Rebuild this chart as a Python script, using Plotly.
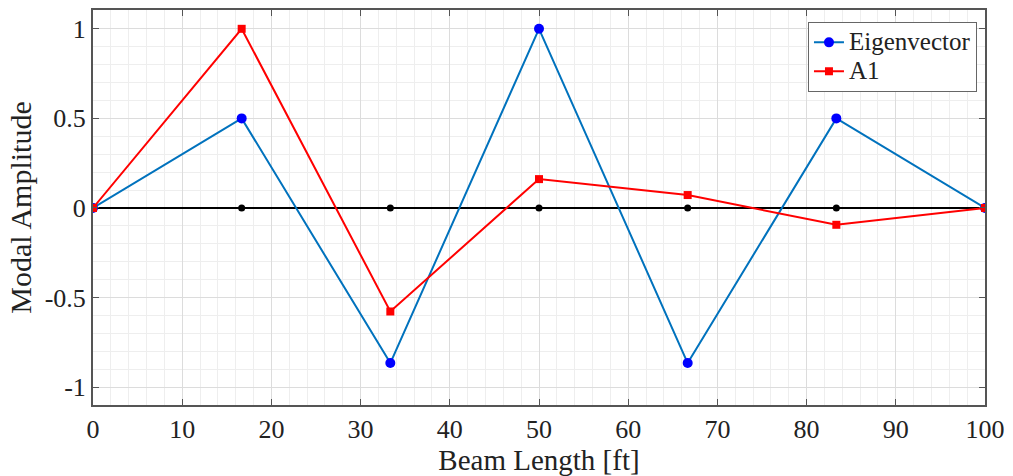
import plotly.graph_objects as go

x_nodes = [0, 100/6, 200/6, 50, 400/6, 500/6, 100]
eigenvector = [0, 0.5, -0.866, 1.0, -0.866, 0.5, 0]
a1 = [0, 1.0, -0.578, 0.161, 0.072, -0.094, 0]
zero_line = [0, 0, 0, 0, 0, 0, 0]
series_names = ["Eigenvector", "A1"]

FONT = "Liberation Serif, Times New Roman, serif"

def big(label):
    return f"<span style='font-size:25px'>{label}</span>"

fig = go.Figure()
fig.add_trace(go.Scatter(x=x_nodes, y=zero_line, mode="lines+markers",
                         line=dict(color="black", width=2),
                         marker=dict(color="black", size=7, symbol="circle"),
                         showlegend=False))
fig.add_trace(go.Scatter(x=x_nodes, y=eigenvector, mode="lines+markers", name=big(series_names[0]),
                         line=dict(color="#0072BD", width=2),
                         marker=dict(color="#0000FF", size=10, symbol="circle")))
fig.add_trace(go.Scatter(x=x_nodes, y=a1, mode="lines+markers", name=big(series_names[1]),
                         line=dict(color="#FF0000", width=2),
                         marker=dict(color="#FF0000", size=8, symbol="square")))

axis_common = dict(showline=True, linecolor="#555555", linewidth=2, mirror="ticks",
                   ticks="inside", ticklen=6, tickcolor="#555555", tickwidth=1,
                   showgrid=True, gridcolor="#dcdcdc", gridwidth=1, zeroline=False,
                   tickfont=dict(family=FONT, size=26, color="#222222"))

fig.update_xaxes(range=[0, 100], tickvals=[0, 10, 20, 30, 40, 50, 60, 70, 80, 90, 100],
                 minor=dict(dtick=2, showgrid=True, gridcolor="#eeeeee", ticks=""),
                 title=dict(text="Beam Length [ft]", font=dict(family=FONT, size=29, color="#222222"),
                            standoff=3),
                 **axis_common)
fig.update_yaxes(range=[-1.1, 1.105], tickvals=[-1, -0.5, 0, 0.5, 1],
                 ticktext=["-1", "-0.5", "0", "0.5", "1"],
                 minor=dict(dtick=0.1, showgrid=True, gridcolor="#eeeeee", ticks=""),
                 title=dict(text="Modal Amplitude", font=dict(family=FONT, size=30, color="#222222"),
                            standoff=4),
                 **axis_common)

fig.update_layout(width=1013, height=476, margin=dict(l=93, r=28, t=8, b=71),
                  plot_bgcolor="white", paper_bgcolor="white",
                  legend=dict(x=0.991, y=0.97, xanchor="right", yanchor="top",
                              bgcolor="white", bordercolor="#666666", borderwidth=1,
                              font=dict(family=FONT, size=20, color="#222222"),
                              tracegroupgap=0, itemwidth=30))

fig.write_html("out.html")
